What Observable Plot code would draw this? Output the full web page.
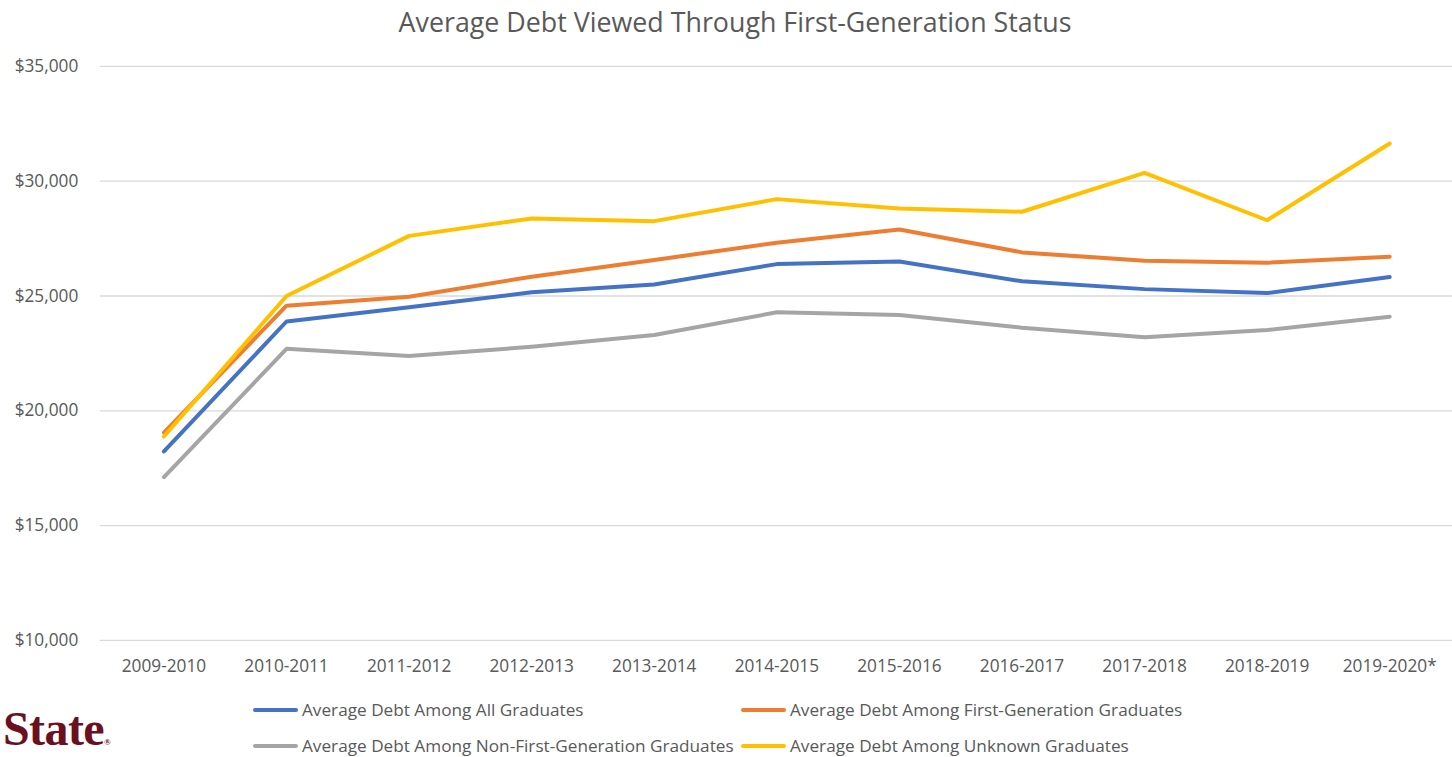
<!DOCTYPE html>
<html><head><meta charset="utf-8">
<script src="https://cdn.jsdelivr.net/npm/d3@7"></script>
<script src="https://cdn.jsdelivr.net/npm/@observablehq/plot@0.6"></script>
<style>
body{margin:0;background:#fff;overflow:hidden;font-family:"Open Sans",sans-serif;color:#595959}
#wrap{position:relative;width:1452px;height:757px;overflow:hidden}
#title{position:absolute;top:3px;left:0;width:1470px;text-align:center;font-size:26.8px;color:#595959}
#chart{position:absolute;top:40px;left:0}
.leg{position:absolute;display:flex;align-items:center;font-size:17.2px;color:#595959;white-space:nowrap}
.sw{width:45px;height:4px;border-radius:2px;margin-right:4px}
#logo{position:absolute;left:3px;top:702px;font-family:"Liberation Serif",serif;font-weight:bold;font-size:48px;color:#6b1020;letter-spacing:-0.6px;line-height:54px;white-space:nowrap}
#logo sup{font-size:9px;letter-spacing:0;vertical-align:baseline;position:relative;top:0}
</style></head>
<body><div id="wrap">
<div id="title">Average Debt Viewed Through First-Generation Status</div>
<div id="chart"></div>
<div id="logo">State<sup>®</sup></div>
</div>
<script>
const years = ["2009-2010","2010-2011","2011-2012","2012-2013","2013-2014","2014-2015","2015-2016","2016-2017","2017-2018","2018-2019","2019-2020*"];
const seriesNames = ["Average Debt Among All Graduates","Average Debt Among First-Generation Graduates","Average Debt Among Non-First-Generation Graduates","Average Debt Among Unknown Graduates"];
const allGrads = [18230,23890,24510,25160,25500,26390,26500,25640,25300,25130,25830];
const firstGen = [19050,24580,24970,25840,26570,27320,27900,26900,26540,26450,26710];
const nonFirstGen = [17110,22700,22390,22790,23300,24290,24170,23620,23200,23520,24100];
const unknown = [18880,25000,27620,28380,28260,29220,28810,28670,30360,28300,31640];
const colors = ["#4472c4","#ed7d31","#a5a5a5","#ffc000"];
const yTicks = [10000,15000,20000,25000,30000,35000];

const valueSets = [allGrads, firstGen, nonFirstGen, unknown];
const rows = [];
valueSets.forEach((vals, s) => vals.forEach((v, i) => rows.push({year: years[i], value: v, series: seriesNames[s]})));

const chart = Plot.plot({
  width: 1457, height: 642,
  marginLeft: 100, marginRight: 0, marginTop: 26, marginBottom: 40,
  style: {fontSize: "17.3px", fontFamily: "'Open Sans', sans-serif", color: "#595959", background: "transparent"},
  x: {type: "point", domain: years, padding: 0.5, label: null},
  y: {domain: [10000, 35000], label: null},
  color: {domain: seriesNames, range: colors},
  marks: [
    Plot.ruleY(yTicks, {stroke: "#d9d9d9", strokeWidth: 1.3}),
    Plot.axisY(yTicks, {tickSize: 0, tickPadding: 22, tickFormat: d3.format("$,"), label: null}),
    Plot.axisX({tickSize: 0, tickPadding: 19, label: null}),
    Plot.line(rows, {x: "year", y: "value", z: "series", stroke: "series", strokeWidth: 4, strokeLinecap: "round", strokeLinejoin: "round"})
  ]
});
document.getElementById("chart").appendChild(chart);

const legPos = [[253,698],[741,698],[253,734],[741,734]];
const wrap = document.getElementById("wrap");
seriesNames.forEach((n, i) => {
  const d = document.createElement("div");
  d.className = "leg";
  d.style.left = legPos[i][0] + "px";
  d.style.top = legPos[i][1] + "px";
  d.innerHTML = `<div class="sw" style="background:${colors[i]}"></div><span>${n}</span>`;
  wrap.appendChild(d);
});
</script>
</body></html>
